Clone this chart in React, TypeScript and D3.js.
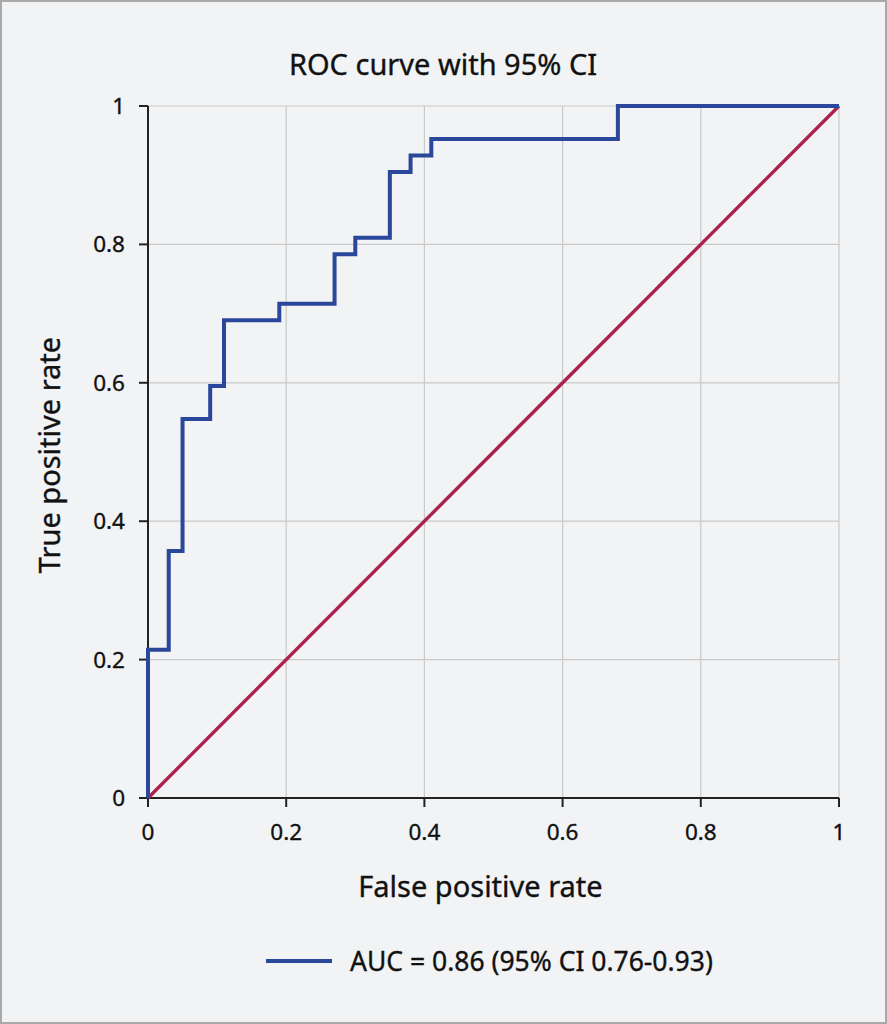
import React from "react";
import * as d3 from "d3";

const fprValues = [0, 0, 0.03, 0.03, 0.05, 0.05, 0.09, 0.09, 0.11, 0.11, 0.19, 0.19, 0.27, 0.27, 0.30, 0.30, 0.35, 0.35, 0.38, 0.38, 0.41, 0.41, 0.68, 0.68, 1];
const tprValues = [0, 0.2143, 0.2143, 0.3571, 0.3571, 0.5476, 0.5476, 0.5952, 0.5952, 0.6905, 0.6905, 0.7143, 0.7143, 0.7857, 0.7857, 0.8095, 0.8095, 0.9048, 0.9048, 0.9286, 0.9286, 0.9524, 0.9524, 1, 1];
const tickValues = [0, 0.2, 0.4, 0.6, 0.8, 1];
const chartTitle = "ROC curve with 95% CI";
const xLabel = "False positive rate";
const yLabel = "True positive rate";
const legendLabel = "AUC = 0.86 (95% CI 0.76-0.93)";

const W = 887;
const H = 1024;
const FONT = "'Noto Sans', 'Open Sans', sans-serif";

export default function App() {
  const margin = { left: 148, right: 48, top: 106, bottom: 226 };
  const x = d3.scaleLinear().domain([0, 1]).range([margin.left, W - margin.right]);
  const y = d3.scaleLinear().domain([0, 1]).range([H - margin.bottom, margin.top]);
  const pts: [number, number][] = fprValues.map((f, i) => [f, tprValues[i]]);
  const line = d3.line<[number, number]>().x((d) => x(d[0])).y((d) => y(d[1]));
  const fmt = (v: number) => (v === 0 || v === 1 ? String(v) : v.toFixed(1));
  const x0 = x(0), x1 = x(1), y0 = y(0), y1 = y(1);
  const cx = (x0 + x1) / 2;
  const cy = (y0 + y1) / 2;
  const txt = { fill: "#111", stroke: "#111", strokeWidth: 0.35 };

  return (
    <svg
      width={W}
      height={H}
      style={{ position: "absolute", left: 0, top: 0, display: "block" }}
      fontFamily={FONT}
    >
      <rect x={1} y={1} width={W - 2} height={H - 2} fill="#f2f3f5" stroke="#a9a9a9" strokeWidth={2} />
      <text x={443} y={75} textAnchor="middle" fontSize={29} {...txt}>{chartTitle}</text>
      {tickValues.map((t) => (
        <g key={"g" + t}>
          <line x1={x(t)} x2={x(t)} y1={y0} y2={y1} stroke="#c9c9c9" strokeWidth={1.2} />
          <line x1={x0} x2={x1} y1={y(t)} y2={y(t)} stroke="#c9c9c9" strokeWidth={1.2} />
        </g>
      ))}
      <line x1={x0} x2={x0} y1={y1} y2={y0} stroke="#222" strokeWidth={2} />
      <line x1={x0} x2={x1} y1={y0} y2={y0} stroke="#222" strokeWidth={2} />
      {tickValues.map((t) => (
        <g key={"t" + t}>
          <line x1={x(t)} x2={x(t)} y1={y0} y2={y0 + 9} stroke="#222" strokeWidth={2} />
          <text x={x(t)} y={y0 + 42} textAnchor="middle" fontSize={22.5} {...txt}>{fmt(t)}</text>
          <line x1={x0 - 9} x2={x0} y1={y(t)} y2={y(t)} stroke="#222" strokeWidth={2} />
          <text x={x0 - 23} y={y(t) + 8} textAnchor="end" fontSize={22.5} {...txt}>{fmt(t)}</text>
        </g>
      ))}
      <line x1={x0} y1={y0} x2={x1} y2={y1} stroke="#ab2150" strokeWidth={3.4} />
      <path d={line(pts) || ""} fill="none" stroke="#2b479b" strokeWidth={4} strokeLinejoin="miter" />
      <text x={cx - 13} y={897} textAnchor="middle" fontSize={29} {...txt}>{xLabel}</text>
      <text transform={`translate(60, ${cy + 3}) rotate(-90)`} textAnchor="middle" fontSize={29} {...txt}>{yLabel}</text>
      <line x1={266} x2={332} y1={961} y2={961} stroke="#2b479b" strokeWidth={4} />
      <text x={350} y={971} fontSize={26.5} {...txt}>{legendLabel}</text>
    </svg>
  );
}
